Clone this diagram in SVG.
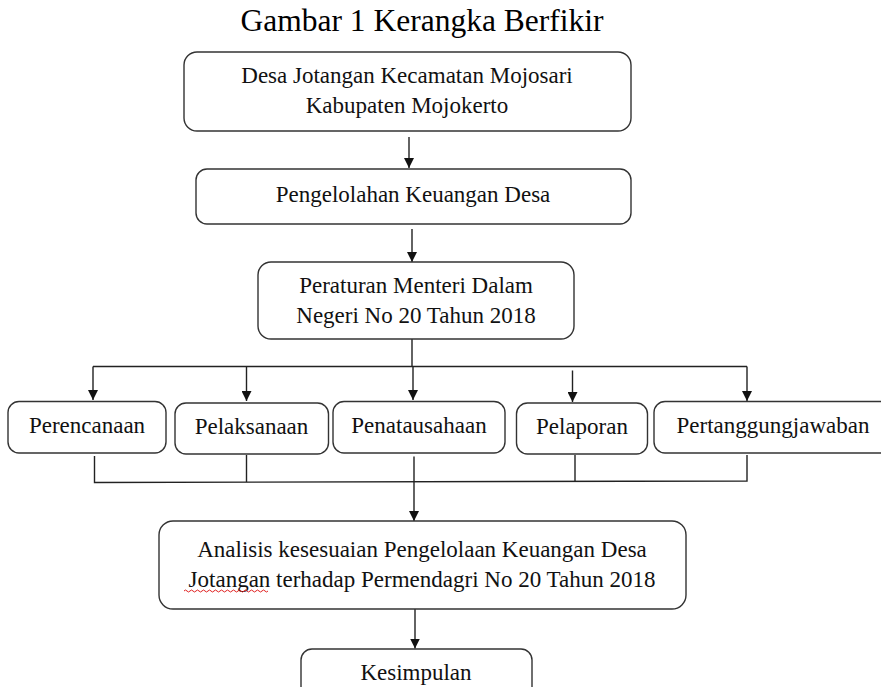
<svg xmlns="http://www.w3.org/2000/svg" width="881" height="687" viewBox="0 0 881 687">
<style>
  .box { fill: #ffffff; stroke: #333333; stroke-width: 1.4; }
  .t { font-family: "Liberation Serif", "Times New Roman", serif; font-size: 23px; fill: #111111; text-anchor: middle; }
  .title { font-family: "Liberation Serif", "Times New Roman", serif; font-size: 31.5px; fill: #000000; text-anchor: middle; }
  .c { fill: none; stroke: #222222; stroke-width: 1.4; }
  .ca { fill: none; stroke: #222222; stroke-width: 1.4; marker-end: url(#ah); }
</style>
<defs>
  <marker id="ah" viewBox="0 0 10 10" refX="10" refY="5" markerUnits="userSpaceOnUse" markerWidth="10" markerHeight="10" orient="auto">
    <path d="M0,0 L10,5 L0,10 z" fill="#111111"/>
  </marker>
</defs>
<rect width="881" height="687" fill="#ffffff"/>
<text class="title" x="422" y="31">Gambar 1 Kerangka Berfikir</text>

<g id="connectors">
  <path class="ca" d="M409,137 L409,168"/>
  <path class="ca" d="M412,229 L412,262"/>
  <path class="c" d="M412,339 L412,366.5"/>
  <path class="c" d="M93,366.5 L747,366.5"/>
  <path class="ca" d="M93,366.5 L93,400"/>
  <path class="ca" d="M246.5,366.5 L246.5,401"/>
  <path class="ca" d="M413,366.5 L413,400"/>
  <path class="ca" d="M572.5,370.5 L572.5,402"/>
  <path class="ca" d="M747,366.5 L747,401"/>
  <path class="c" d="M94.5,456 L94.5,482.5 L747,481 L747,455"/>
  <path class="c" d="M246.5,455 L246.5,482"/>
  <path class="c" d="M575,455 L575,481"/>
  <path class="ca" d="M414,456.5 L414,521"/>
  <path class="ca" d="M415,609 L415,648.5"/>
</g>

<g id="node-desa">
  <rect class="box" x="184" y="52" width="447" height="79" rx="13"/>
  <text class="t" x="407" y="83">Desa Jotangan Kecamatan Mojosari</text>
  <text class="t" x="407" y="112.5">Kabupaten Mojokerto</text>
</g>
<g id="node-pengelolahan">
  <rect class="box" x="196" y="169" width="435" height="55" rx="11"/>
  <text class="t" x="413" y="201.5">Pengelolahan Keuangan Desa</text>
</g>
<g id="node-peraturan">
  <rect class="box" x="258" y="262" width="316" height="77" rx="13"/>
  <text class="t" x="416" y="293">Peraturan Menteri Dalam</text>
  <text class="t" x="416" y="323">Negeri No 20 Tahun 2018</text>
</g>
<g id="node-perencanaan">
  <rect class="box" x="8" y="401.5" width="158" height="51.5" rx="11"/>
  <text class="t" x="87" y="433">Perencanaan</text>
</g>
<g id="node-pelaksanaan">
  <rect class="box" x="175" y="403" width="153.5" height="51" rx="11"/>
  <text class="t" x="251.5" y="434">Pelaksanaan</text>
</g>
<g id="node-penatausahaan">
  <rect class="box" x="333" y="401.5" width="172" height="51.5" rx="11"/>
  <text class="t" x="419" y="433">Penatausahaan</text>
</g>
<g id="node-pelaporan">
  <rect class="box" x="516.5" y="403" width="131" height="51" rx="11"/>
  <text class="t" x="582" y="434">Pelaporan</text>
</g>
<g id="node-pertanggungjawaban">
  <rect class="box" x="654" y="401.5" width="238" height="51.5" rx="11"/>
  <text class="t" x="773" y="433">Pertanggungjawaban</text>
</g>
<g id="node-analisis">
  <rect class="box" x="159" y="521" width="527" height="88" rx="14"/>
  <text class="t" x="422" y="557">Analisis kesesuaian Pengelolaan Keuangan Desa</text>
  <text class="t" x="422" y="586.5">Jotangan terhadap Permendagri No 20 Tahun 2018</text>
  <path d="M184,591 q1.5,-2 3,0 t3,0 t3,0 t3,0 t3,0 t3,0 t3,0 t3,0 t3,0 t3,0 t3,0 t3,0 t3,0 t3,0 t3,0 t3,0 t3,0 t3,0 t3,0 t3,0 t3,0 t3,0 t3,0 t3,0 t3,0 t3,0 t3,0 t3,0" fill="none" stroke="#e02020" stroke-width="1"/>
</g>
<g id="node-kesimpulan">
  <rect class="box" x="301" y="649" width="231" height="60" rx="11"/>
  <text class="t" x="416" y="680">Kesimpulan</text>
</g>
</svg>
